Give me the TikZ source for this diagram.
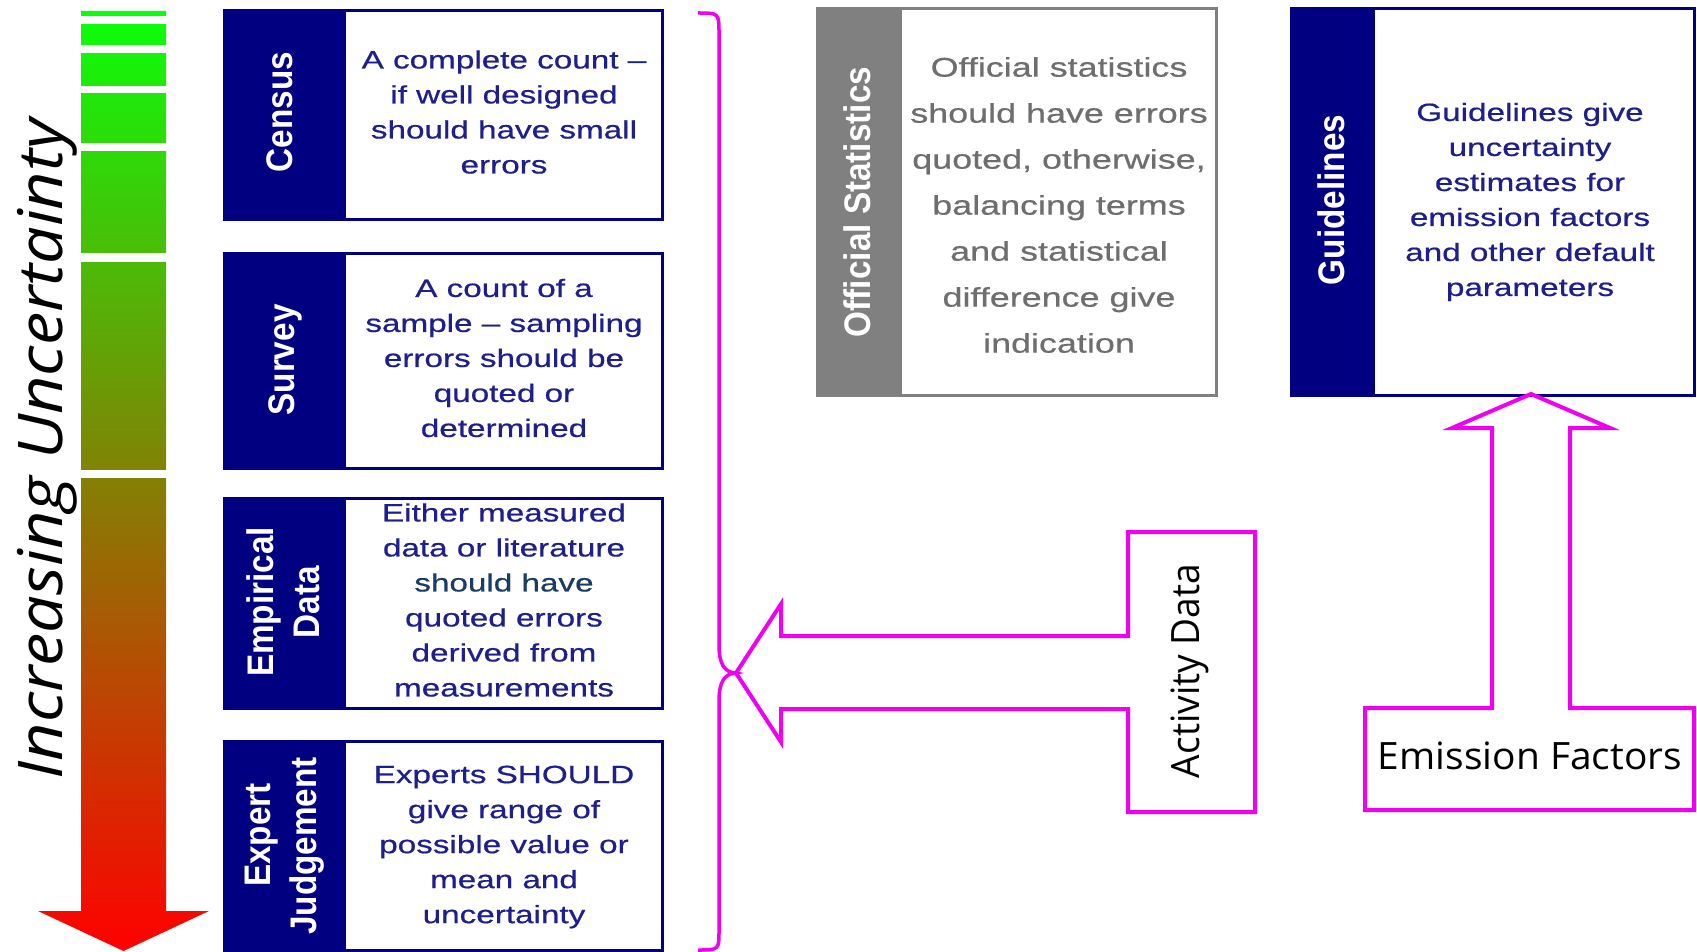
\documentclass[tikz,border=0pt]{standalone}
\usepackage{fontspec}
\setmainfont{Liberation Sans}
\newfontfamily\bodyW[FakeStretch=1.33,FakeBold=0.6]{Liberation Sans}
\newfontfamily\labR[FakeStretch=0.9]{Liberation Sans}
\newfontfamily\comic{Open Sans}
\definecolor{boxnavy}{RGB}{0,0,128}
\definecolor{txtnavy}{RGB}{30,30,140}
\definecolor{txtteal}{RGB}{25,60,100}
\definecolor{bandgrey}{RGB}{128,128,128}
\definecolor{txtgrey}{RGB}{110,110,110}
\definecolor{magC}{RGB}{240,0,240}
\definecolor{gTop}{RGB}{10,255,10}
\definecolor{gMid}{RGB}{128,128,0}
\definecolor{gBot}{RGB}{255,0,0}
\tikzset{
  bodytxt/.style={font=\bodyW\fontsize{25}{35}\selectfont, text=txtnavy, align=center, inner sep=0pt},
  greytxt/.style={font=\bodyW\fontsize{27}{46}\selectfont, text=txtgrey, align=center, inner sep=0pt},
  lab/.style={font=\labR\bfseries\fontsize{37}{46}\selectfont, text=white, align=center, rotate=90, inner sep=0pt},
  navybox/.style={draw=boxnavy, line width=3pt},
  greybox/.style={draw=bandgrey, line width=3pt},
  magline/.style={draw=magC, line width=4pt, line join=miter},
  gap/.style={fill=white}
}
\begin{document}
\begin{tikzpicture}[x=1pt,y=-1pt]
\useasboundingbox (0,0) rectangle (1697,952);
\fill[white] (0,0) rectangle (1697,952);

% gradient uncertainty arrow
\shade[top color=gTop, middle color=gMid, bottom color=gBot]
  (81,11) -- (166,11) -- (166,911) -- (209,911) -- (123.5,951) -- (38,911) -- (81,911) -- cycle;
\foreach \a/\b in {16/24,45/53,86/93,143/151,253/262,470/478}
  \fill[gap] (76,\a) rectangle (171,\b);

\node[rotate=90, inner sep=0pt] (incr) at (47,449)
  {\resizebox*{660pt}{60pt}{\comic\itshape Increasing Uncertainty}};

% Census
\fill[boxnavy] (224,11) rectangle (346,220);
\draw[navybox] (224,11) rectangle (662,220);
\node[lab] (censusL) at (280,112) {Census};
\node[bodytxt] (censusT) at (504,112) {A complete count –\\ if well designed\\ should have small\\ errors};

% Survey
\fill[boxnavy] (224,253) rectangle (346,468);
\draw[navybox] (224,253) rectangle (662,468);
\node[lab] (surveyL) at (285,360) {Survey};
\node[bodytxt] (surveyT) at (504,358) {A count of a\\ sample – sampling\\ errors should be\\ quoted or\\ determined};

% Empirical
\fill[boxnavy] (224,498) rectangle (346,708);
\draw[navybox] (224,498) rectangle (662,708);
\node[lab] (empL) at (283,602) {Empirical\\ Data};
\node[bodytxt] (empT) at (504,600) {Either measured\\ data or literature\\ \textcolor{txtteal}{should have}\\ quoted errors\\ derived from\\ measurements};

% Expert
\fill[boxnavy] (224,741) rectangle (346,950);
\draw[navybox] (224,741) rectangle (662,950);
\node[lab] (expL) at (285,846) {\hspace*{22pt}Expert\\ Judgement};
\node[bodytxt] (expT) at (504,847) {Experts SHOULD\\ give range of\\ possible value or\\ mean and\\ uncertainty};

% Official statistics
\fill[bandgrey] (817,9) rectangle (902,395);
\draw[greybox] (817,9) rectangle (1216,395);
\node[lab] (offL) at (857,202) {Official Statistics};
\node[greytxt] (offT) at (1059,205) {Official statistics\\ should have errors\\ quoted, otherwise,\\ balancing terms\\ and statistical\\ difference give\\ indication};

% Guidelines
\fill[boxnavy] (1291,9) rectangle (1375,395);
\draw[navybox] (1291,9) rectangle (1694,395);
\node[lab] (guideL) at (1331,200) {Guidelines};
\node[bodytxt] (guideT) at (1530,202) {Guidelines give\\ uncertainty\\ estimates for\\ emission factors\\ and other default\\ parameters};

% brace
\draw[magC, line width=3.5pt] (698,13) .. controls (719,13) .. (719,34) -- (719,645)
  .. controls (719,665) and (725,672) .. (735,673)
  .. controls (725,674) and (719,681) .. (719,701) -- (719,930)
  .. controls (719,950) .. (698,950);

% Activity Data block arrow
\draw[magline] (736,673) -- (781,604) -- (781,636) -- (1128,636) -- (1128,532) -- (1255,532)
  -- (1255,812) -- (1128,812) -- (1128,709) -- (781,709) -- (781,742) -- cycle;
\node[rotate=90, inner sep=0pt] (act) at (1190,671)
  {\resizebox*{214pt}{38pt}{\comic Activity Data}};

% Emission Factors block arrow
\draw[magline] (1531,394) -- (1610,428) -- (1570,428) -- (1570,708) -- (1694,708) -- (1694,810)
  -- (1365,810) -- (1365,708) -- (1492,708) -- (1492,428) -- (1452,428) -- cycle;
\node[inner sep=0pt] (emis) at (1530,756)
  {\resizebox*{304pt}{28pt}{\comic Emission Factors}};
\end{tikzpicture}
\end{document}
